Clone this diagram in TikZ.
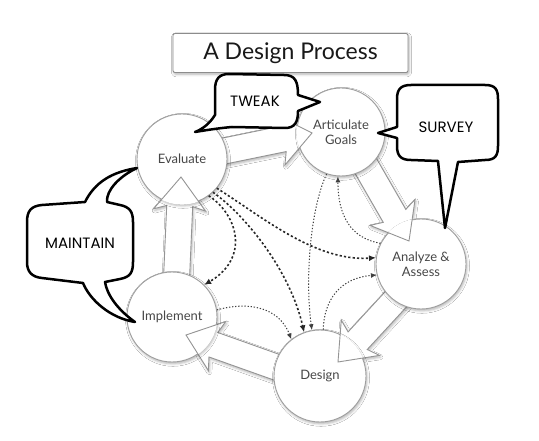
\documentclass[tikz,border=0pt]{standalone}
\usepackage{fontspec}
\setmainfont{Lato}
\newfontfamily\comicfont{Poppins}
\usetikzlibrary{calc,arrows.meta,shadows.blur}

\tikzset{
  softshadow/.style={blur shadow={shadow xshift=1pt, shadow yshift=-1.8pt, shadow blur radius=2.5pt, shadow opacity=30}},
  stage/.style={circle, draw=black!38, line width=0.9pt, fill=white, minimum size=90pt,
    inner sep=0pt, align=center, font=\fontsize{13}{15}\selectfont, text=black!72, softshadow},
  titlebox/.style={draw=black!45, line width=0.9pt, fill=white, rounded corners=2pt,
    minimum width=235pt, minimum height=39pt, inner sep=0pt, font=\fontsize{23}{27}\selectfont,
    text=black!90, softshadow},
  blockarr/.style={draw=black!42, line width=0.9pt, fill=white, line join=miter},
  blockshad/.style={softshadow},
  evdash/.style={draw=black!85, line width=1.6pt, dash pattern=on 2.2pt off 2.2pt,
    -{Latex[length=7pt,width=6pt]}},
  fine/.style={draw=black!75, line width=1pt, dash pattern=on 1.3pt off 1.8pt,
    -{Latex[length=6pt,width=5pt]}},
  bubble/.style={draw=black, line width=2.5pt, fill=white, line join=round},
  bubbletext/.style={font=\comicfont\fontsize{15}{18}\selectfont, inner sep=0pt}
}

\newcommand\blockarrow[3][]{%
  \coordinate (bahd) at ($(#3)!29pt!(#2)$);
  \coordinate (babb) at ($(#3)!33pt!(#2)$);
  \draw[blockarr,#1] ($(#2)!13pt!90:(#3)$) -- ($(bahd)!13pt!90:(#3)$)
    -- ($(babb)!26pt!90:(#3)$) -- (#3) -- ($(babb)!26pt!-90:(#3)$)
    -- ($(bahd)!13pt!-90:(#3)$) -- ($(#2)!13pt!-90:(#3)$) -- cycle;}

\begin{document}
\begin{tikzpicture}[x=1pt,y=-1pt]
\useasboundingbox (0,0) rectangle (539,441);
\fill[white] (0,0) rectangle (539,441);

% title
\node[titlebox] (title) at (290.5,53) {A Design Process};

% block arrow end points
\coordinate (t1) at (195,157); \coordinate (h1) at (312,133);
\coordinate (t2) at (352,142); \coordinate (h2) at (409,241);
\coordinate (t3) at (410,284); \coordinate (h3) at (338,362);
\coordinate (t4) at (290,372); \coordinate (h4) at (186,335);
\coordinate (t5) at (176,290); \coordinate (h5) at (181,177);

\blockarrow[blockshad]{t1}{h1}
\blockarrow[blockshad]{t2}{h2}
\blockarrow[blockshad]{t3}{h3}
\blockarrow[blockshad]{t4}{h4}
\blockarrow[blockshad]{t5}{h5}

% stages
\node[stage] (ev) at (182,159) {Evaluate};
\node[stage, minimum size=88pt] (ag) at (341,132) {Articulate\\Goals};
\node[stage] (aa) at (421,264) {Analyze \&\\Assess};
\node[stage] (im) at (172,317) {Implement};
\node[stage, minimum size=92pt] (de) at (320,376) {Design};

% arrow heads drawn over the target circles
\begin{scope} \clip (ag.center) circle[radius=44.6pt]; \blockarrow{t1}{h1} \end{scope}
\begin{scope} \clip (aa.center) circle[radius=45.6pt]; \blockarrow{t2}{h2} \end{scope}
\begin{scope} \clip (de.center) circle[radius=46.6pt]; \blockarrow{t3}{h3} \end{scope}
\begin{scope} \clip (im.center) circle[radius=45.6pt]; \blockarrow{t4}{h4} \end{scope}
\begin{scope} \clip (ev.center) circle[radius=45.6pt]; \blockarrow{t5}{h5} \end{scope}

% dotted connectors
\draw[evdash] (ev.-54) .. controls (238,215) and (250,258) .. (im.45);
\draw[evdash] (ev.-47) .. controls (245,215) and (290,270) .. (de.110);
\draw[evdash] (ev.-40) .. controls (260,215) and (315,262) .. (aa.172);
\draw[fine] (ag.-109) .. controls (310,210) and (305,280) .. (de.100);
\draw[fine] (aa.153) .. controls (350,238) and (338,215) .. (ag.-94);
\draw[fine] (de.86) .. controls (324,300) and (340,278) .. (aa.194);
\draw[fine] (im.9) .. controls (245,302) and (278,305) .. (de.128);

% speech bubbles
\draw[bubble] (232,127) -- (285,128) .. controls (295,128) and (298,122) .. (298,111)
  -- (320,102) -- (298,95) .. controls (298,81) and (295,75) .. (284,75)
  -- (229,74) .. controls (219,74) and (215,79) .. (215,90)
  -- (215,115) .. controls (210,123) and (203,129) .. (195,132)
  .. controls (207,130) and (220,128) .. (232,127) -- cycle;
\node[bubbletext] (tw) at (255,101) {TWEAK};

\draw[bubble] (397,138) -- (397,146) .. controls (397,156) and (401,160) .. (411,160)
  -- (438,161) -- (445,228) -- (458,162) -- (485,160)
  .. controls (495,160) and (498,156) .. (498,146) -- (498,99)
  .. controls (498,89) and (495,85) .. (485,85) -- (411,85)
  .. controls (401,85) and (397,89) .. (397,99) -- (397,127) -- (378,133) -- cycle;
\node[bubbletext] (su) at (446,127) {SURVEY};

\draw[bubble] (107,202) -- (120,205) .. controls (130,207) and (133,212) .. (133,222)
  -- (133,262) .. controls (133,273) and (130,277) .. (120,279) -- (105,282)
  .. controls (107,295) and (118,310) .. (135,322)
  .. controls (110,318) and (90,300) .. (83,283)
  -- (42,278) .. controls (32,277) and (27,272) .. (27,262)
  -- (27,222) .. controls (27,211) and (31,206) .. (42,205) -- (85,202)
  .. controls (95,182) and (112,172) .. (137,168)
  .. controls (120,176) and (106,190) .. (107,202) -- cycle;
\node[bubbletext] (ma) at (80,243) {MAINTAIN};
\end{tikzpicture}
\end{document}
